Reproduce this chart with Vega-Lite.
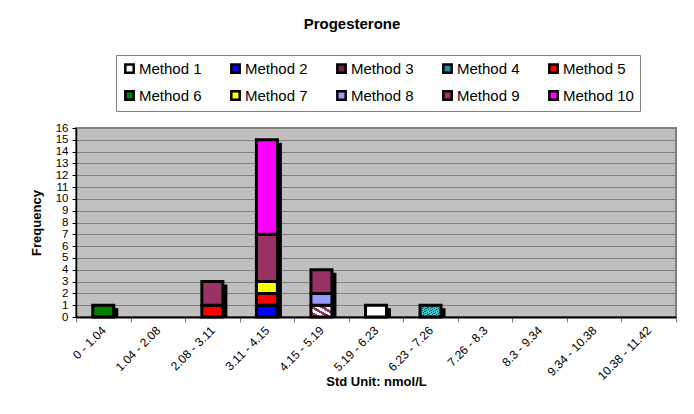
{
  "$schema": "https://vega.github.io/schema/vega-lite/v6.json",
  "width": 600,
  "height": 189,
  "autosize": {"type": "none"},
  "padding": {"left": 76, "top": 128, "right": 18, "bottom": 97},
  "background": "white",
  "title": {
    "text": "Progesterone",
    "font": "Liberation Sans",
    "fontSize": 15,
    "fontWeight": "bold",
    "color": "black",
    "anchor": "middle",
    "dx": -24,
    "offset": 23
  },
  "config": {
    "font": "Liberation Sans",
    "view": {"fill": "#C0C0C0", "stroke": "#808080", "strokeWidth": 2},
    "axisY": {
      "titleFont": "Liberation Sans",
      "titleFontSize": 13,
      "titleFontWeight": "bold",
      "titleColor": "black",
      "titlePadding": 12,
      "labelOverlap": false,
      "labelFont": "Liberation Sans",
      "labelFontSize": 11.5,
      "labelColor": "black",
      "labelPadding": 4,
      "tickColor": "black",
      "tickSize": 4,
      "domainColor": "black",
      "domainWidth": 1.5,
      "grid": true,
      "gridColor": "#808080",
      "gridWidth": 1.2,
      "gridOpacity": 1
    }
  },
  "data": {
    "values": [
      {"bin": "0 - 1.04", "method": "Method 6", "m": 6, "count": 1},
      {"bin": "2.08 - 3.11", "method": "Method 5", "m": 5, "count": 1},
      {"bin": "2.08 - 3.11", "method": "Method 9", "m": 9, "count": 2},
      {"bin": "3.11 - 4.15", "method": "Method 2", "m": 2, "count": 1},
      {"bin": "3.11 - 4.15", "method": "Method 5", "m": 5, "count": 1},
      {"bin": "3.11 - 4.15", "method": "Method 7", "m": 7, "count": 1},
      {"bin": "3.11 - 4.15", "method": "Method 9", "m": 9, "count": 4},
      {"bin": "3.11 - 4.15", "method": "Method 10", "m": 10, "count": 8},
      {"bin": "4.15 - 5.19", "method": "Method 3", "m": 3, "count": 1},
      {"bin": "4.15 - 5.19", "method": "Method 8", "m": 8, "count": 1},
      {"bin": "4.15 - 5.19", "method": "Method 9", "m": 9, "count": 2},
      {"bin": "5.19 - 6.23", "method": "Method 1", "m": 1, "count": 1},
      {"bin": "6.23 - 7.26", "method": "Method 4", "m": 4, "count": 1}
    ]
  },
  "encoding": {
    "x": {
      "field": "bin",
      "type": "nominal",
      "sort": null,
      "scale": {
        "domain": ["0 - 1.04", "1.04 - 2.08", "2.08 - 3.11", "3.11 - 4.15", "4.15 - 5.19", "5.19 - 6.23", "6.23 - 7.26", "7.26 - 8.3", "8.3 - 9.34", "9.34 - 10.38", "10.38 - 11.42"],
        "paddingInner": 0,
        "paddingOuter": 0
      },
      "axis": {
        "title": "Std Unit: nmol/L",
        "titleFont": "Liberation Sans",
        "titleFontSize": 13,
        "titleFontWeight": "bold",
        "titleColor": "black",
        "titlePadding": -6,
        "labelAngle": -45,
        "labelAlign": "right",
        "labelBaseline": "middle",
        "labelFont": "Liberation Sans",
        "labelFontSize": 12,
        "labelColor": "black",
        "labelPadding": 6,
        "labelOverlap": false,
        "tickBand": "extent",
        "tickColor": "#808080",
        "tickSize": 5,
        "domainColor": "black",
        "domainWidth": 2,
        "grid": false
      }
    }
  },
  "layer": [
    {
      "transform": [
        {"aggregate": [{"op": "sum", "field": "count", "as": "total"}], "groupby": ["bin"]}
      ],
      "mark": {"type": "bar", "color": "black", "width": 22, "xOffset": 4, "yOffset": 3, "clip": true},
      "encoding": {
        "y": {
          "field": "total",
          "type": "quantitative",
          "scale": {"domain": [0, 16], "nice": false},
          "axis": {
            "title": "Frequency",
            "values": [0, 1, 2, 3, 4, 5, 6, 7, 8, 9, 10, 11, 12, 13, 14, 15, 16]
          }
        }
      }
    },
    {
      "mark": {"type": "bar", "width": 21, "stroke": "black", "strokeWidth": 3},
      "encoding": {
        "y": {
          "field": "count",
          "type": "quantitative",
          "stack": "zero",
          "scale": {"domain": [0, 16], "nice": false},
          "axis": {
            "title": "Frequency",
            "values": [0, 1, 2, 3, 4, 5, 6, 7, 8, 9, 10, 11, 12, 13, 14, 15, 16]
          }
        },
        "order": {"field": "m", "type": "quantitative", "sort": "ascending"},
        "fill": {
          "condition": [
            {
              "test": "datum.m === 3",
              "value": {
                "gradient": "linear", "x1": 0, "y1": 1, "x2": 1, "y2": 0,
                "stops": [
                  {"offset": 0, "color": "white"}, {"offset": 0.12, "color": "white"},
                  {"offset": 0.12, "color": "#993366"}, {"offset": 0.25, "color": "#993366"},
                  {"offset": 0.25, "color": "white"}, {"offset": 0.38, "color": "white"},
                  {"offset": 0.38, "color": "#993366"}, {"offset": 0.5, "color": "#993366"},
                  {"offset": 0.5, "color": "white"}, {"offset": 0.62, "color": "white"},
                  {"offset": 0.62, "color": "#993366"}, {"offset": 0.75, "color": "#993366"},
                  {"offset": 0.75, "color": "white"}, {"offset": 0.88, "color": "white"},
                  {"offset": 0.88, "color": "#993366"}, {"offset": 1, "color": "#993366"}
                ]
              }
            },
            {
              "test": "datum.m === 4",
              "value": {
                "gradient": "linear", "x1": 0, "y1": 0, "x2": 1, "y2": 1,
                "stops": [
                  {"offset": 0, "color": "#33CCCC"}, {"offset": 0.07, "color": "#33CCCC"},
                  {"offset": 0.07, "color": "#0a4f66"}, {"offset": 0.1, "color": "#0a4f66"},
                  {"offset": 0.1, "color": "#33CCCC"}, {"offset": 0.17, "color": "#33CCCC"},
                  {"offset": 0.17, "color": "#0a4f66"}, {"offset": 0.2, "color": "#0a4f66"},
                  {"offset": 0.2, "color": "#33CCCC"}, {"offset": 0.27, "color": "#33CCCC"},
                  {"offset": 0.27, "color": "#0a4f66"}, {"offset": 0.3, "color": "#0a4f66"},
                  {"offset": 0.3, "color": "#33CCCC"}, {"offset": 0.37, "color": "#33CCCC"},
                  {"offset": 0.37, "color": "#0a4f66"}, {"offset": 0.4, "color": "#0a4f66"},
                  {"offset": 0.4, "color": "#33CCCC"}, {"offset": 0.47, "color": "#33CCCC"},
                  {"offset": 0.47, "color": "#0a4f66"}, {"offset": 0.5, "color": "#0a4f66"},
                  {"offset": 0.5, "color": "#33CCCC"}, {"offset": 0.57, "color": "#33CCCC"},
                  {"offset": 0.57, "color": "#0a4f66"}, {"offset": 0.6, "color": "#0a4f66"},
                  {"offset": 0.6, "color": "#33CCCC"}, {"offset": 0.67, "color": "#33CCCC"},
                  {"offset": 0.67, "color": "#0a4f66"}, {"offset": 0.7, "color": "#0a4f66"},
                  {"offset": 0.7, "color": "#33CCCC"}, {"offset": 0.77, "color": "#33CCCC"},
                  {"offset": 0.77, "color": "#0a4f66"}, {"offset": 0.8, "color": "#0a4f66"},
                  {"offset": 0.8, "color": "#33CCCC"}, {"offset": 0.87, "color": "#33CCCC"},
                  {"offset": 0.87, "color": "#0a4f66"}, {"offset": 0.9, "color": "#0a4f66"},
                  {"offset": 0.9, "color": "#33CCCC"}, {"offset": 1, "color": "#33CCCC"}
                ]
              }
            }
          ],
          "field": "method",
          "type": "nominal",
          "scale": {
            "domain": ["Method 1", "Method 2", "Method 3", "Method 4", "Method 5", "Method 6", "Method 7", "Method 8", "Method 9", "Method 10"],
            "range": ["#FFFFFF", "#0000FF", "#6a2550", "#1f8fa0", "#FF0000", "#008000", "#FFFF00", "#9999FF", "#993366", "#FF00FF"]
          },
          "legend": {
            "title": null,
            "orient": "none",
            "legendX": 40,
            "legendY": -73,
            "direction": "horizontal",
            "columns": 5,
            "columnPadding": 24,
            "rowPadding": 8,
            "padding": 6,
            "strokeColor": "#808080",
            "symbolType": "square",
            "symbolSize": 70,
            "symbolStrokeColor": "black",
            "symbolStrokeWidth": 2.5,
            "symbolOpacity": 1,
            "labelFont": "Liberation Sans",
            "labelFontSize": 15,
            "labelColor": "black",
            "labelOffset": 2,
            "labelLimit": 200
          }
        }
      }
    }
  ]
}
